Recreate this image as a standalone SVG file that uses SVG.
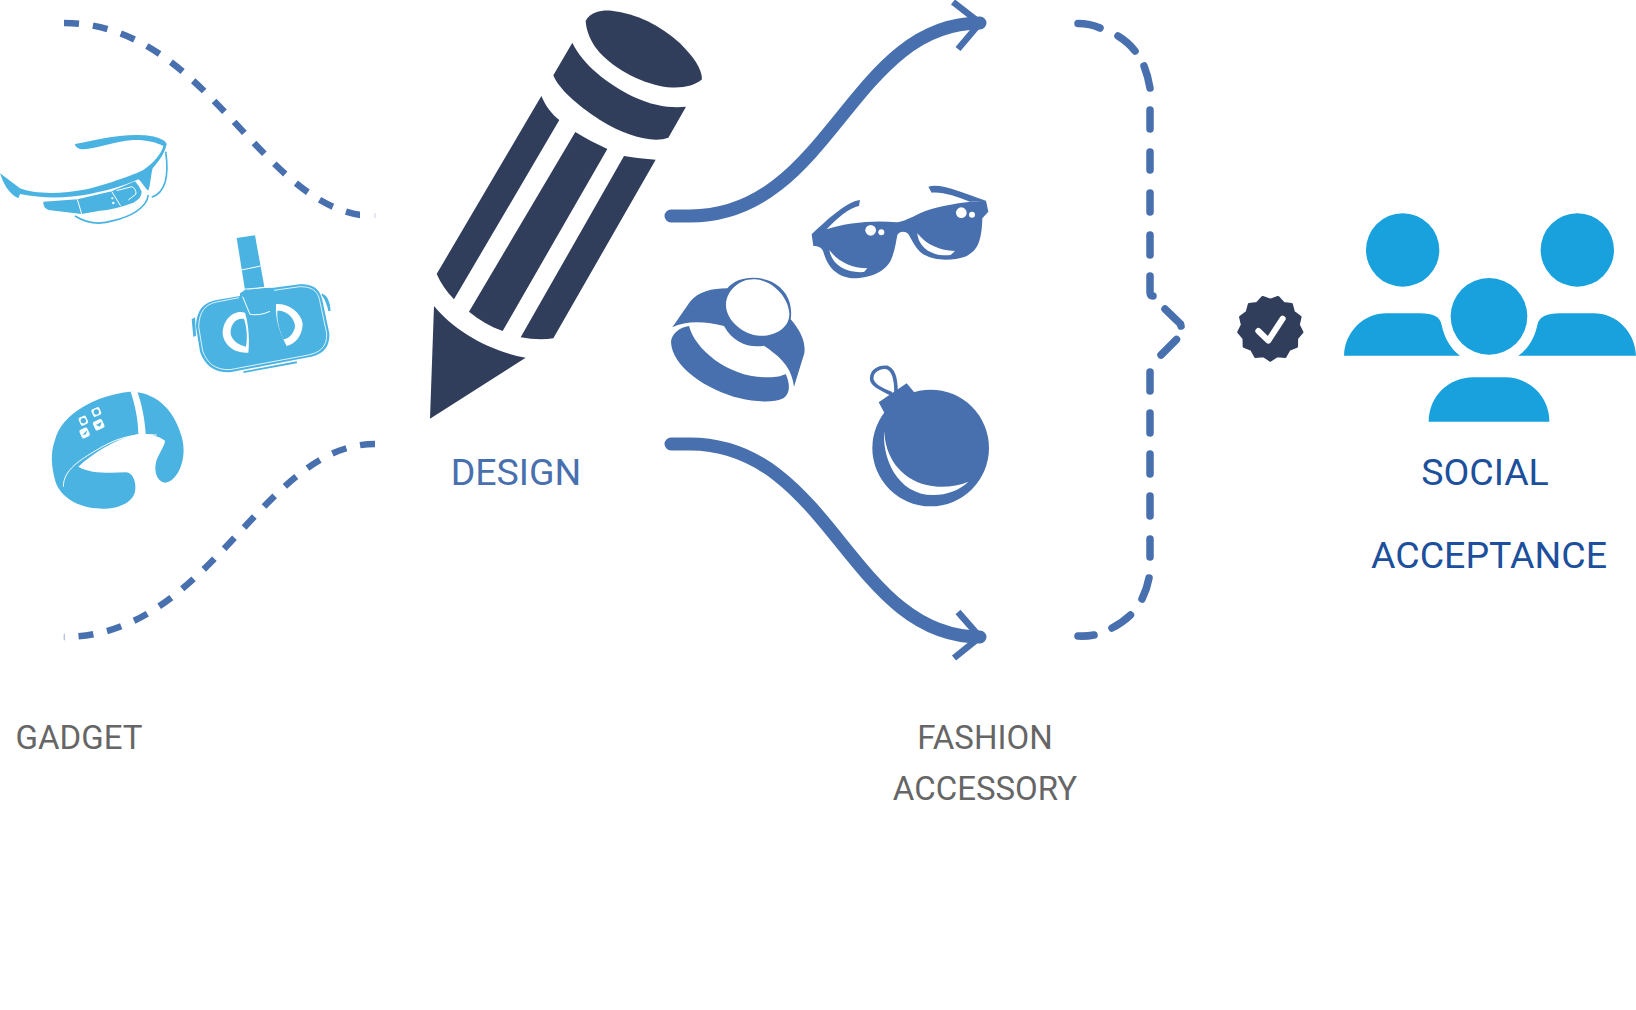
<svg xmlns="http://www.w3.org/2000/svg" width="1636" height="1010" viewBox="0 0 1636 1010">
<style>
text{font-family:Roboto,"Liberation Sans",sans-serif}
.gad{fill:#4AB3E2}
.wl{fill:none;stroke:#fff;stroke-width:3}
.bl{fill:#4870AE}
.dk{fill:#303E5C}
.pp{fill:#18A1DC}
.thick{fill:none;stroke:#4870AE;stroke-width:13;stroke-linecap:round}
.head{fill:none;stroke:#4870AE;stroke-width:6.5}
.dash{fill:none;stroke:#4870AE;stroke-width:6.5;stroke-dasharray:15 14}
.brace{fill:none;stroke:#4870AE;stroke-width:7.5;stroke-linecap:round}
.tick{stroke:#C5D2E6;stroke-width:1;fill:none}
</style>
<rect width="1636" height="1010" fill="#fff"/>
<g id="connectors">
<path class="dash" d="M64 23C210 23 262 216 375 216"/>
<path class="dash" d="M375 444C262 444 210 637 64 637"/>
<rect x="360" y="205" width="18" height="20" fill="#fff"/>
<path class="tick" d="M375 213V218M64 634V640"/>
<path class="thick" d="M671 216L690 216C830 216 851 23 980 23"/>
<path class="thick" d="M671 444L690 444C830 444 851 637 980 637"/>
<path class="head" d="M953 2L980 23L958 49"/>
<path class="head" d="M958 612L980 637L954 658"/>
<path class="brace" d="M1078 23.500Q1090 23.500 1100 28M1118 36Q1128 42 1135 51M1144 66Q1148 76 1150 88M1150 110V129M1150 152V170M1150 193V212M1150 235V255M1150 276V292Q1150 296 1153 296M1165 309L1180.500 324Q1181 326 1181 326M1176.500 339.500L1161 355M1150 372V391M1150 413V433M1150 454V474M1150 496V516M1150 539V557M1149 578Q1147 589 1142 599M1130.500 615Q1122 623 1112 628M1094 635Q1086 636.500 1078 636"/>
</g>
<g id="glasses-gadget" transform="translate(0 120) scale(.33333)">
<path class="gad" d="M0 160C20 175 40 190 60 205C100 222 180 224 260 208C330 190 400 165 430 150C460 130 485 100 490 78C470 66 430 58 400 60C340 65 290 85 250 88C235 88 225 80 225 72C280 62 340 45 410 45C455 45 495 55 500 72C495 100 475 125 458 145C452 165 452 195 445 212C435 205 425 185 415 178C380 195 330 210 270 222C200 235 130 236 60 222L55 235C25 220 10 190 0 160Z"/>
<path class="gad" d="M130 245L232 238L335 214L405 184Q420 200 425 215Q425 235 400 248Q340 270 300 272L245 282L145 270Q128 262 130 245Z"/>
<path fill="none" stroke="#4AB3E2" stroke-width="5" d="M225 288C260 310 300 315 340 302C390 290 440 265 445 225M497 95C505 150 505 215 455 232"/>
<path class="wl" d="M232 238L245 282M335 214L362 258M350 212L395 200Q408 205 408 222L385 240"/>
<circle cx="337" cy="235" r="3.500" fill="#fff"/><circle cx="340" cy="249" r="3.500" fill="#fff"/>
</g>
<g id="vr-gadget" transform="translate(0 120) scale(.33333)">
<path class="gad" d="M710 354L765 346L793 500L735 510Z"/>
<path class="wl" d="M725 450L782 438"/>
<path class="gad" d="M650 540L720 528L720 520L735 510L793 503L820 503L900 493C950 493 962 515 968 545L988 640C990 690 960 705 925 712L690 757C640 758 615 735 600 695L588 620C590 570 610 548 650 540Z"/>
<path fill="none" stroke="#fff" stroke-width="2.500" d="M717 533L650 546C615 553 598 575 596 620L608 693C622 730 645 750 690 749L925 705C955 698 982 685 980 640L960 546C955 520 945 500 900 500L822 511M735 507L820 501"/>
<path fill="#fff" d="M735 578C700 568 668 600 668 640C670 675 705 702 745 698C748 670 748 620 735 578Z"/>
<path class="gad" d="M732 597C708 592 690 615 692 640C694 662 720 678 738 680C743 650 740 620 732 597Z"/>
<path fill="#fff" d="M828 552C870 548 908 585 908 615C905 650 885 672 860 678C840 640 825 600 828 552Z"/>
<path class="gad" d="M832 572C860 570 885 595 885 620C880 645 865 655 850 658C838 630 830 600 832 572Z"/>
<path class="wl" stroke-width="2" d="M728 530L750 583Q780 588 810 574"/>
<path class="gad" d="M965 520Q990 530 992 572L985 574Q980 545 965 525ZM575 598L585 592L588 648L580 650Z"/>
<path class="gad" d="M730 754L890 724L891 730L731 759Z"/>
</g>
<g id="band-gadget" transform="translate(0 120) scale(.33333)">
<path class="gad" d="M390 815C460 815 520 860 545 950C565 1020 530 1085 495 1088C470 1085 460 1050 470 1020C480 995 495 975 495 962C470 945 440 940 410 943C340 960 280 1000 235 1040C270 1060 320 1060 380 1057C400 1060 410 1090 405 1115C395 1155 340 1170 290 1165C220 1160 175 1120 165 1080C155 1040 150 1000 165 960C185 880 290 825 390 815Z"/>
<path fill="#fff" d="M392 815L412 815C425 850 435 900 437 942L415 942C415 900 405 855 392 815Z"/>
<path class="wl" d="M190 1100C190 1050 240 1020 290 990C340 960 390 938 470 945"/>
<g fill="#fff">
<rect x="238" y="889" width="24" height="26" rx="6" transform="rotate(-25 250 902)"/>
<rect x="276" y="864" width="26" height="24" rx="6" transform="rotate(-25 289 876)"/>
<rect x="241" y="925" width="26" height="28" rx="6" transform="rotate(-25 254 939)"/>
<rect x="281" y="900" width="30" height="28" rx="6" transform="rotate(-25 296 914)"/>
</g>
<g class="gad"><circle cx="250" cy="902" r="8"/><circle cx="289" cy="876" r="8"/><path d="M247 945L262 930L258 943ZM288 915L305 905L300 920Z"/></g>
</g>
<g id="pencil" class="dk" transform="translate(420 0) scale(.33333)">
<path d="M497 62C515 32 550 30 575 32C650 40 720 75 780 130C820 170 845 205 846 238C820 262 770 268 720 258C640 240 560 190 525 140C508 115 498 85 497 62Z"/>
<path d="M457 128C490 195 560 250 640 290C700 318 755 325 798 320L745 413C700 430 620 410 540 360C470 315 415 265 400 226Z"/>
<path d="M364 288C378 320 395 342 418 360L102 898C80 875 62 850 50 822Z"/>
<path d="M466 396C495 415 530 432 562 447L248 993C212 980 178 960 147 935Z"/>
<path d="M612 468C645 474 675 477 707 479L400 1015C370 1020 335 1018 302 1012Z"/>
<path d="M42 918C100 990 210 1055 317 1073L30 1256Z"/>
</g>
<g id="sunglasses" transform="translate(640 170) scale(.33333)">
<path class="bl" d="M515 193C560 150 620 95 660 90L657 108C630 112 590 145 560 178C620 158 700 150 770 157C790 155 810 145 840 130C880 110 950 100 990 95L1038 92L1045 125L1027 145C1025 220 1010 245 975 260C930 275 870 272 840 245C825 230 815 210 805 192C795 183 780 183 772 195C768 215 765 240 755 265C740 305 690 325 640 325C580 320 560 280 550 245C545 232 535 228 520 228Z"/>
<path class="bl" d="M865 50C900 38 960 65 1038 92L990 95C950 80 910 65 875 68Z"/>
<g fill="#fff"><circle cx="692" cy="181" r="16"/><circle cx="724" cy="187" r="9"/><circle cx="964" cy="128" r="16"/><circle cx="996" cy="134" r="9"/>
<path d="M568 240C590 270 630 295 682 295L672 306C620 310 575 285 568 240Z"/><path d="M832 190C860 225 900 242 945 243L932 255C880 262 835 235 832 190Z"/></g>
</g>
<g id="ring" transform="translate(640 170) scale(.33333)">
<path class="bl" d="M97 472L150 395C175 365 215 355 262 355C290 320 350 315 395 335C435 355 460 395 452 448C480 480 498 515 493 550L462 650C455 590 420 560 372 527C330 535 280 520 252 468C200 455 140 450 97 472Z"/>
<path fill="#fff" d="M258 400C262 360 300 325 345 328C395 330 445 380 448 430C450 475 400 500 360 497C310 495 255 450 258 400Z"/>
<path class="bl" d="M147 468C165 540 270 625 385 622C410 622 425 618 437 612C450 640 452 670 430 685C400 700 340 695 300 685C200 660 95 590 93 515C95 490 120 472 147 468Z"/>
</g>
<g id="ornament" transform="translate(640 170) scale(.33333)">
<circle class="bl" cx="872" cy="834" r="175"/>
<path class="bl" d="M716 697L800 640L824 668L735 732Z"/>
<path fill="none" stroke="#4870AE" stroke-width="11" d="M755 672C720 655 695 645 695 625C695 600 720 590 740 592C765 600 768 640 768 665"/>
<path fill="#fff" d="M733 782C725 860 770 975 880 975C920 975 960 960 985 935C950 950 900 955 860 945C780 925 735 860 733 782Z"/>
</g>
<g id="badge" transform="translate(1130 200) scale(.33333)">
<path class="dk" stroke="#303E5C" stroke-width="8" stroke-linejoin="round" d="M421 481L400.700 467.500L376.400 470L364.600 448.700L342 439.500L341.500 415.200L325.700 396.500L336.600 374.600L331.200 350.900L351.100 336.600L357.400 313.100L381.500 309.800L398.100 291.800L421 300L443.900 291.800L460.500 309.800L484.600 313.100L490.900 336.600L510.800 350.900L505.400 374.600L516.300 396.500L500.500 415.200L500 439.500L477.400 448.700L465.600 470L441.300 467.500Z"/>
<path fill="none" stroke="#fff" stroke-width="18" stroke-linecap="round" stroke-linejoin="round" d="M385 393L415 422L458 356"/>
</g>
<g id="people" class="pp" transform="translate(1130 200) scale(.33333)">
<circle cx="818" cy="150" r="110"/><circle cx="1342" cy="150" r="110"/><circle cx="1077" cy="349" r="115"/>
<path d="M642 467C645 395 700 340 770 340L870 340C910 340 930 350 935 375C942 410 960 445 990 467Z"/>
<path d="M1518 467C1515 395 1460 340 1390 340L1290 340C1250 340 1228 350 1222 375C1215 410 1197 445 1165 467Z"/>
<path d="M896 665C896 590 955 532 1030 532L1125 532C1200 532 1258 590 1258 665Z"/>
</g>
<g id="labels" font-size="37.500" text-anchor="middle">
<text id="gadget" x="79" y="749" font-size="33" fill="#666">GADGET</text>
<text id="design" x="516" y="485" font-size="37.500" fill="#4870AE">DESIGN</text>
<text x="985" y="749" font-size="33" fill="#666">FASHION</text>
<text x="985" y="800" font-size="33" fill="#666">ACCESSORY</text>
<text x="1485" y="485" fill="#1C4F9C">SOCIAL</text>
<text x="1489" y="568" fill="#1C4F9C">ACCEPTANCE</text>
</g>
</svg>
